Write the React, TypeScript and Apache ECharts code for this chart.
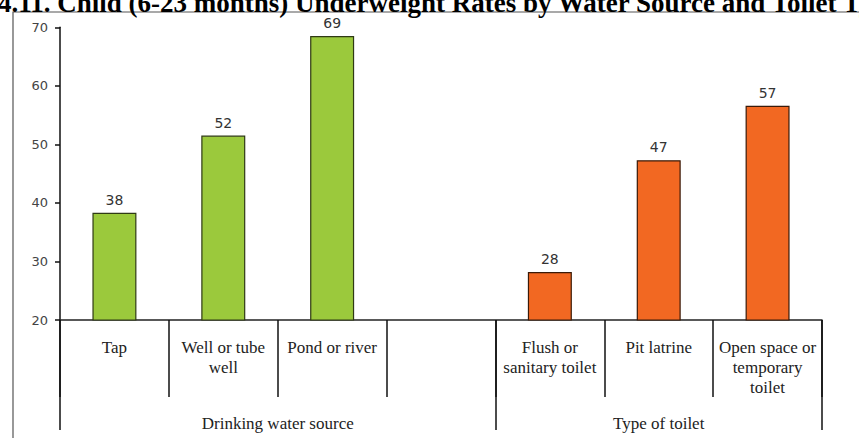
import React, { useEffect, useRef } from "react";
import * as echarts from "echarts";

const titleText = "4.11. Child (6-23 months) Underweight Rates by Water Source and Toilet Type";

const waterCategories = ["Tap", "Well or tube\nwell", "Pond or river"];
const waterValues = [38.3, 51.5, 68.5];
const toiletCategories = ["Flush or\nsanitary toilet", "Pit latrine", "Open space or\ntemporary\ntoilet"];
const toiletValues = [28.2, 47.3, 56.6];

const groupLabels = ["Drinking water source", "Type of toilet"];
const waterColor = "#9BC93C";
const toiletColor = "#F26822";

const yMin = 20;
const yMax = 70;
const yInterval = 10;

export default function App() {
  const ref = useRef<HTMLDivElement>(null);

  useEffect(() => {
    document.body.style.margin = "0";
    const chart = echarts.init(ref.current!, undefined, { renderer: "svg" });

    // one empty spacer slot between the two groups
    const categories = [...waterCategories, "", ...toiletCategories];
    const data: any[] = [
      ...waterValues.map((v) => ({ value: v, itemStyle: { color: waterColor, borderColor: "#2f3a14" } })),
      "-",
      ...toiletValues.map((v) => ({ value: v, itemStyle: { color: toiletColor, borderColor: "#3a1a08" } })),
    ];

    const groupSizes = [waterCategories.length + 1, toiletCategories.length];
    const groupEdges = [0, groupSizes[0], groupSizes[0] + groupSizes[1]];
    const groupCenters = [groupSizes[0] / 2, groupSizes[0] + groupSizes[1] / 2];

    chart.setOption({
      animation: false,
      backgroundColor: "#ffffff",
      grid: { left: 60, right: 37, top: 27.3, bottom: 118 },
      graphic: [
        {
          type: "rect",
          shape: { x: 13, y: 12, width: 900, height: 500 },
          style: { fill: "none", stroke: "#555", lineWidth: 1.2 },
          silent: true,
        },
        {
          type: "text",
          x: -2,
          y: 16,
          style: {
            text: titleText,
            font: "bold 27px 'Liberation Serif', 'Times New Roman', serif",
            fill: "#000",
            align: "left",
            verticalAlign: "bottom",
          },
        },
      ],
      xAxis: [
        {
          type: "category",
          data: categories,
          boundaryGap: true,
          position: "bottom",
          axisLine: { lineStyle: { color: "#222", width: 1.5 } },
          axisTick: { show: true, interval: 0, length: 77, alignWithLabel: false, lineStyle: { color: "#111", width: 1.5 } },
          axisLabel: {
            interval: 0,
            margin: 17,
            fontFamily: "'Liberation Serif', 'Times New Roman', serif",
            fontSize: 17,
            lineHeight: 20,
            color: "#222",
            align: "center",
            verticalAlign: "top",
          },
          splitLine: { show: false },
        },
        {
          type: "value",
          gridIndex: 0,
          position: "bottom",
          min: 0,
          max: groupEdges[2],
          axisLine: { show: false },
          splitLine: { show: false },
          axisTick: { show: true, length: 110, customValues: groupEdges, lineStyle: { color: "#111", width: 1.5 } },
          axisLabel: {
            customValues: groupCenters,
            margin: 95,
            formatter: (v: number) => {
              const i = groupCenters.indexOf(v);
              return i >= 0 ? groupLabels[i] : "";
            },
            fontFamily: "'Liberation Serif', 'Times New Roman', serif",
            fontSize: 17,
            color: "#222",
            verticalAlign: "top",
          },
        },
      ],
      yAxis: {
        type: "value",
        min: yMin,
        max: yMax,
        interval: yInterval,
        axisLine: { show: true, lineStyle: { color: "#111", width: 1.5 } },
        axisTick: { show: true, length: 5, lineStyle: { color: "#111", width: 1.5 } },
        axisLabel: {
          margin: 12,
          fontFamily: "'DejaVu Sans', Verdana, sans-serif",
          fontSize: 13,
          color: "#444",
        },
        splitLine: { show: false },
      },
      series: [
        {
          type: "bar",
          xAxisIndex: 0,
          data,
          barWidth: 44,
          itemStyle: { borderWidth: 1.2 },
          label: {
            show: true,
            position: "top",
            distance: 6,
            formatter: (p: any) => String(Math.round(p.value)),
            fontFamily: "'DejaVu Sans', Verdana, sans-serif",
            fontSize: 14,
            color: "#333",
          },
        },
      ],
    });

    return () => chart.dispose();
  }, []);

  return <div ref={ref} style={{ width: 859, height: 438 }} />;
}
